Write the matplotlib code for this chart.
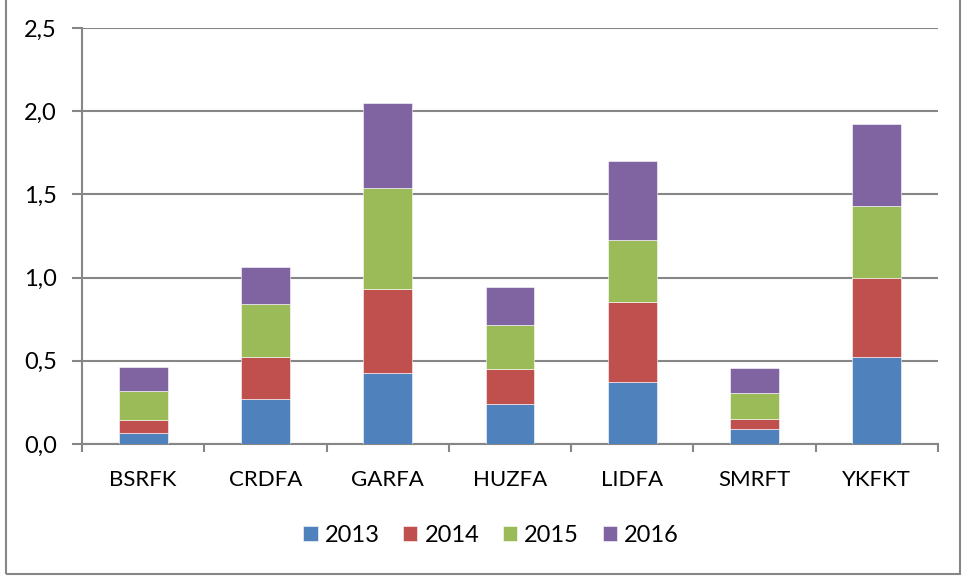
import numpy as np
import matplotlib.pyplot as plt
from matplotlib.patches import Rectangle

# -------- DATA --------
stations = ["BSRFK", "CRDFA", "GARFA", "HUZFA", "LIDFA", "SMRFT", "YKFKT"]
years = ["2013", "2014", "2015", "2016"]

v2013 = [0.066, 0.269, 0.428, 0.243, 0.371, 0.091, 0.521]
v2014 = [0.078, 0.254, 0.504, 0.208, 0.484, 0.061, 0.477]
v2015 = [0.174, 0.318, 0.609, 0.262, 0.368, 0.157, 0.433]
v2016 = [0.146, 0.221, 0.508, 0.230, 0.475, 0.148, 0.493]

y_ticks = [0.0, 0.5, 1.0, 1.5, 2.0, 2.5]

colors = ["#4F81BD", "#C0504D", "#9BBB59", "#8064A2"]

plt.rcParams['font.family'] = ['Lato', 'DejaVu Sans']

fig = plt.figure(figsize=(9.63, 5.76), dpi=100)
ax = fig.add_axes([82 / 963, 1 - 444 / 576, (938 - 82) / 963, (444 - 28) / 576])

x = np.arange(len(stations))
bottom = np.zeros(len(stations))
for vals, c, lab in zip([v2013, v2014, v2015, v2016], colors, years):
    ax.bar(x, vals, width=0.4, bottom=bottom, color=c, label=lab,
           edgecolor="white", linewidth=0.4, zorder=3)
    bottom += np.array(vals)

# -------- AXES --------
ax.set_xlim(-0.5, len(stations) - 0.5)
ax.set_ylim(0, 2.5)
ax.set_yticks(y_ticks)
ax.set_yticklabels([f"{t:.1f}".replace(".", ",") for t in y_ticks], fontsize=17)
ax.yaxis.grid(True, color="#868686", linewidth=1.5, zorder=0)

ax.set_xticks(x)
ax.set_xticklabels(stations, fontsize=16)
ax.set_xticks(np.arange(-0.5, len(stations)), minor=True)
ax.tick_params(axis="x", which="major", length=0, pad=19)
ax.tick_params(axis="x", which="minor", length=6, width=1.5, color="#868686", direction="out")
ax.tick_params(axis="y", length=7, width=1.5, color="#868686", direction="out", pad=11)

for s in ["top", "right"]:
    ax.spines[s].set_visible(False)
for s in ["left", "bottom"]:
    ax.spines[s].set_color("#868686")
    ax.spines[s].set_linewidth(1.5)

ax.legend(loc="center", bbox_to_anchor=(0.51, 0.071), bbox_transform=fig.transFigure,
          ncol=4, frameon=False, fontsize=17, handlelength=0.6, handleheight=0.6,
          handletextpad=0.3, columnspacing=1.0)

# outer chart border
fig.patches.append(Rectangle((6 / 963, 0.003), 954 / 963, 1.2, transform=fig.transFigure,
                             fill=False, edgecolor="#868686", linewidth=1.5))

fig.savefig("out.png", dpi=100)
